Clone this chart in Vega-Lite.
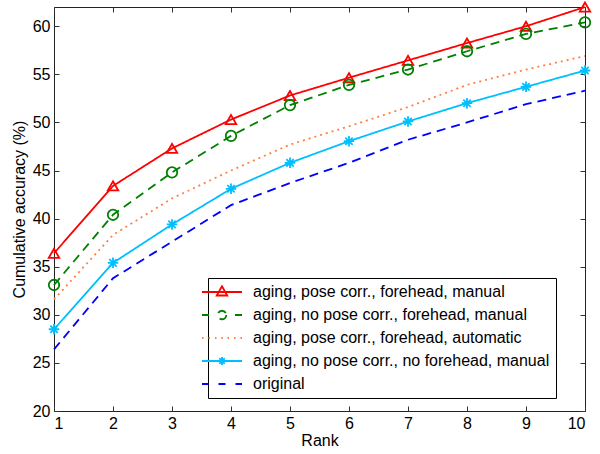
{
  "$schema": "https://vega.github.io/schema/vega-lite/v6.json",
  "width": 531,
  "height": 404,
  "autosize": "none",
  "padding": {"left": 54, "top": 7, "right": 15, "bottom": 43},
  "background": "white",
  "config": {
    "view": {"stroke": "#222", "strokeWidth": 1},
    "font": "Liberation Sans",
    "axis": {"labelFont": "Liberation Sans", "titleFont": "Liberation Sans", "labelFontSize": 16, "titleFontSize": 16, "labelColor": "#000", "titleColor": "#000", "titleFontWeight": "normal", "grid": false, "domain": false, "tickColor": "#333", "tickSize": -5}
  },
  "data": {"values": [
    {"series": "aging, pose corr., forehead, manual", "rank": 1, "acc": 36.4},
    {"series": "aging, pose corr., forehead, manual", "rank": 2, "acc": 43.4},
    {"series": "aging, pose corr., forehead, manual", "rank": 3, "acc": 47.3},
    {"series": "aging, pose corr., forehead, manual", "rank": 4, "acc": 50.3},
    {"series": "aging, pose corr., forehead, manual", "rank": 5, "acc": 52.8},
    {"series": "aging, pose corr., forehead, manual", "rank": 6, "acc": 54.65},
    {"series": "aging, pose corr., forehead, manual", "rank": 7, "acc": 56.45},
    {"series": "aging, pose corr., forehead, manual", "rank": 8, "acc": 58.25},
    {"series": "aging, pose corr., forehead, manual", "rank": 9, "acc": 60.0},
    {"series": "aging, pose corr., forehead, manual", "rank": 10, "acc": 62.0},
    {"series": "aging, no pose corr., forehead, manual", "rank": 1, "acc": 33.1},
    {"series": "aging, no pose corr., forehead, manual", "rank": 2, "acc": 40.4},
    {"series": "aging, no pose corr., forehead, manual", "rank": 3, "acc": 44.8},
    {"series": "aging, no pose corr., forehead, manual", "rank": 4, "acc": 48.6},
    {"series": "aging, no pose corr., forehead, manual", "rank": 5, "acc": 51.8},
    {"series": "aging, no pose corr., forehead, manual", "rank": 6, "acc": 53.9},
    {"series": "aging, no pose corr., forehead, manual", "rank": 7, "acc": 55.5},
    {"series": "aging, no pose corr., forehead, manual", "rank": 8, "acc": 57.4},
    {"series": "aging, no pose corr., forehead, manual", "rank": 9, "acc": 59.2},
    {"series": "aging, no pose corr., forehead, manual", "rank": 10, "acc": 60.4},
    {"series": "aging, pose corr., forehead, automatic", "rank": 1, "acc": 31.6},
    {"series": "aging, pose corr., forehead, automatic", "rank": 2, "acc": 38.3},
    {"series": "aging, pose corr., forehead, automatic", "rank": 3, "acc": 42.1},
    {"series": "aging, pose corr., forehead, automatic", "rank": 4, "acc": 45.0},
    {"series": "aging, pose corr., forehead, automatic", "rank": 5, "acc": 47.7},
    {"series": "aging, pose corr., forehead, automatic", "rank": 6, "acc": 49.6},
    {"series": "aging, pose corr., forehead, automatic", "rank": 7, "acc": 51.6},
    {"series": "aging, pose corr., forehead, automatic", "rank": 8, "acc": 53.9},
    {"series": "aging, pose corr., forehead, automatic", "rank": 9, "acc": 55.5},
    {"series": "aging, pose corr., forehead, automatic", "rank": 10, "acc": 56.9},
    {"series": "aging, no pose corr., no forehead, manual", "rank": 1, "acc": 28.5},
    {"series": "aging, no pose corr., no forehead, manual", "rank": 2, "acc": 35.4},
    {"series": "aging, no pose corr., no forehead, manual", "rank": 3, "acc": 39.4},
    {"series": "aging, no pose corr., no forehead, manual", "rank": 4, "acc": 43.1},
    {"series": "aging, no pose corr., no forehead, manual", "rank": 5, "acc": 45.8},
    {"series": "aging, no pose corr., no forehead, manual", "rank": 6, "acc": 48.05},
    {"series": "aging, no pose corr., no forehead, manual", "rank": 7, "acc": 50.1},
    {"series": "aging, no pose corr., no forehead, manual", "rank": 8, "acc": 52.0},
    {"series": "aging, no pose corr., no forehead, manual", "rank": 9, "acc": 53.7},
    {"series": "aging, no pose corr., no forehead, manual", "rank": 10, "acc": 55.4},
    {"series": "original", "rank": 1, "acc": 26.4},
    {"series": "original", "rank": 2, "acc": 33.8},
    {"series": "original", "rank": 3, "acc": 37.6},
    {"series": "original", "rank": 4, "acc": 41.4},
    {"series": "original", "rank": 5, "acc": 43.7},
    {"series": "original", "rank": 6, "acc": 45.8},
    {"series": "original", "rank": 7, "acc": 48.2},
    {"series": "original", "rank": 8, "acc": 50.0},
    {"series": "original", "rank": 9, "acc": 51.9},
    {"series": "original", "rank": 10, "acc": 53.3}
  ]},
  "resolve": {"axis": {"x": "independent", "y": "independent"}},
  "layer": [
    {
      "mark": {"type": "line", "strokeWidth": 1.8},
      "encoding": {
        "x": {"field": "rank", "type": "quantitative", "scale": {"domain": [1, 10], "nice": false, "zero": false},
              "axis": {"orient": "bottom", "values": [1,2,3,4,5,6,7,8,9,10], "title": "Rank", "labelPadding": 9, "titlePadding": 1}},
        "y": {"field": "acc", "type": "quantitative", "scale": {"domain": [20, 62], "nice": false, "zero": false},
              "axis": {"orient": "left", "values": [20,25,30,35,40,45,50,55,60], "title": "Cumulative accuracy (%)", "labelPadding": 9, "titlePadding": 5}},
        "color": {"field": "series", "type": "nominal",
          "scale": {"domain": ["aging, pose corr., forehead, manual", "aging, no pose corr., forehead, manual", "aging, pose corr., forehead, automatic", "aging, no pose corr., no forehead, manual", "original"],
                    "range": ["#ff0000", "#008000", "#ff8040", "#00bfff", "#0000ff"]},
          "legend": {
            "orient": "none", "legendX": 154, "legendY": 271, "title": null,
            "strokeColor": "#000", "fillColor": "#fff", "padding": 6,
            "labelFont": "Liberation Sans", "labelFontSize": 16, "labelColor": "#000", "labelLimit": 0,
            "symbolSize": 100, "symbolStrokeWidth": 1.8, "labelOffset": 23, "rowPadding": 7,
            "encode": {"symbols": {"update": {
              "shape": {"signal": "datum.value == 'aging, pose corr., forehead, manual' ? 'M-4,0H4M0,-1.15L1.05,0.7H-1.05Z' : datum.value == 'aging, no pose corr., forehead, manual' ? 'M-4,0H-2.6M2.6,0H4M0.85,0A0.85,0.85 0 1,1 -0.85,0A0.85,0.85 0 1,1 0.85,0' : datum.value == 'aging, pose corr., forehead, automatic' ? 'M-4,0H-3.7M-2.7,0H-2.4M-1.4,0H-1.1M-0.15,0H0.15M1.1,0H1.4M2.4,0H2.7M3.7,0H4' : datum.value == 'aging, no pose corr., no forehead, manual' ? 'M-4,0H4M-0.8,0H0.8M0,-0.8V0.8M-0.55,-0.55L0.55,0.55M-0.55,0.55L0.55,-0.55' : 'M-4,0H-2.7M-0.7,0H0.7M2.7,0H4'"},
              "strokeDash": {"value": []},
              "size": {"value": 100},
              "fill": {"value": "transparent"}
            }}}
          }},
        "strokeDash": {"field": "series", "type": "nominal",
          "scale": {"domain": ["aging, pose corr., forehead, manual", "aging, no pose corr., forehead, manual", "aging, pose corr., forehead, automatic", "aging, no pose corr., no forehead, manual", "original"],
                    "range": [[1, 0], [9, 6], [2, 4], [1, 0], [9, 6]]},
          "legend": null}
      }
    },
    {
      "transform": [{"filter": "datum.series != 'original' && datum.series != 'aging, pose corr., forehead, automatic'"}],
      "mark": {"type": "point", "filled": false, "strokeWidth": 1.8, "size": 110, "opacity": 1},
      "encoding": {
        "x": {"field": "rank", "type": "quantitative", "axis": {"orient": "top", "values": [1,2,3,4,5,6,7,8,9,10], "labels": false, "title": null}},
        "y": {"field": "acc", "type": "quantitative", "axis": {"orient": "right", "values": [20,25,30,35,40,45,50,55,60], "labels": false, "title": null}},
        "stroke": {"field": "series", "type": "nominal",
          "scale": {"domain": ["aging, pose corr., forehead, manual", "aging, no pose corr., forehead, manual", "aging, no pose corr., no forehead, manual"],
                    "range": ["#ff0000", "#008000", "#00bfff"]}, "legend": null},
        "shape": {"field": "series", "type": "nominal",
          "scale": {"domain": ["aging, pose corr., forehead, manual", "aging, no pose corr., forehead, manual", "aging, no pose corr., no forehead, manual"],
                    "range": ["triangle-up", "circle", "M-1,0H1M0,-1V1M-0.7,-0.7L0.7,0.7M-0.7,0.7L0.7,-0.7"]}, "legend": null}
      }
    }
  ]
}
